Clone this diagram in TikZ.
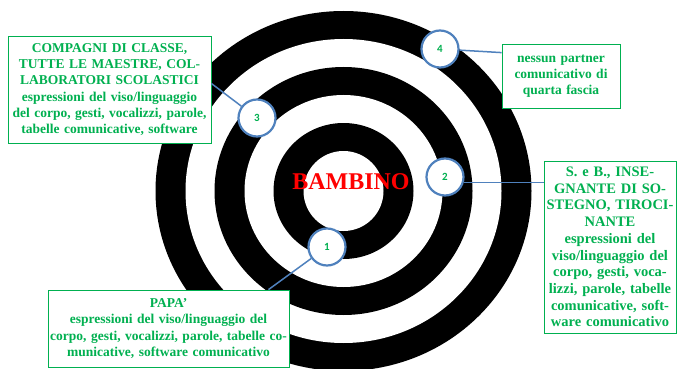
\documentclass[tikz,border=0pt]{standalone}
\usepackage{fontspec}
\setmainfont{Liberation Serif}
\newfontfamily\numfont{Carlito}
\usepackage{xcolor}
\usetikzlibrary{shapes,arrows,positioning}
\definecolor{ringgreen}{HTML}{00B050}
\definecolor{ringblue}{HTML}{4F81BD}

\begin{document}
\begin{tikzpicture}[x=1pt, y=-1pt, thick]
\tikzstyle{infobox} = [rectangle, draw=ringgreen, line width=0.8pt, fill=white, text=ringgreen, align=center, inner xsep=2pt, inner ysep=0pt, font=\bfseries\fontsize{13.5}{16.2}\selectfont]
\tikzstyle{numero} = [circle, draw=ringblue, line width=2.2pt, fill=white, text=ringgreen, minimum size=37pt, inner sep=0pt, font=\numfont\bfseries\fontsize{11}{11}\selectfont]
\tikzstyle{link} = [ringblue, line width=1.5pt]

\useasboundingbox (0,0) rectangle (678,369);
\clip (0,0) rectangle (678,369);
\fill [white] (0,0) rectangle (678,369);

\foreach \rx/\ry/\c in {188/180/black, 158/152/white, 129/124/black, 99/96/white, 70/68/black, 40/40/white}
  \fill [\c] (343.5,191) ellipse [x radius=\rx pt, y radius=\ry pt];

\node [text=red, font=\bfseries\fontsize{24}{24}\selectfont] (bambino) at (351,182) {BAMBINO};

\node [infobox, text width=199pt, minimum height=107pt] (compagni) at (109.5,89.5) {COMPAGNI DI CLASSE,\\TUTTE LE MAESTRE, COL-\\LABORATORI SCOLASTICI\\espressioni del viso/linguaggio\\del corpo, gesti, vocalizzi, parole,\\tabelle comunicative, software};
\node [infobox, text width=114pt, minimum height=64pt] (nessuno) at (561,76) {nessun partner\\comunicativo di\\quarta fascia};
\node [infobox, text width=128pt, minimum height=172pt, font=\bfseries\fontsize{14.5}{16.7}\selectfont] (sostegno) at (610,247) {S. e B., INSE-\\GNANTE DI SO-\\STEGNO, TIROCI-\\NANTE\\espressioni del\\viso/linguaggio del\\corpo, gesti, voca-\\lizzi, parole, tabelle\\comunicative, soft-\\ware comunicativo};
\node [infobox, text width=237pt, minimum height=77pt] (papa) at (168.5,328.5) {PAPA’\\espressioni del viso/linguaggio del\\corpo, gesti, vocalizzi, parole, tabelle co-\\municative, software comunicativo};

\node [numero] (num1) at (327,247) {1};
\node [numero] (num2) at (445,177) {2};
\node [numero] (num3) at (257,118) {3};
\node [numero] (num4) at (440,49) {4};

\draw [link] ([xshift=100pt]papa.north) -- (num1);
\draw [link] (num2.-17) -- (num2.-17 -| sostegno.west);
\draw [link] ([yshift=6pt]compagni.east) -- (num3);
\draw [link] (num4) -- ([yshift=-9pt]nessuno.north west);

\end{tikzpicture}
\end{document}
